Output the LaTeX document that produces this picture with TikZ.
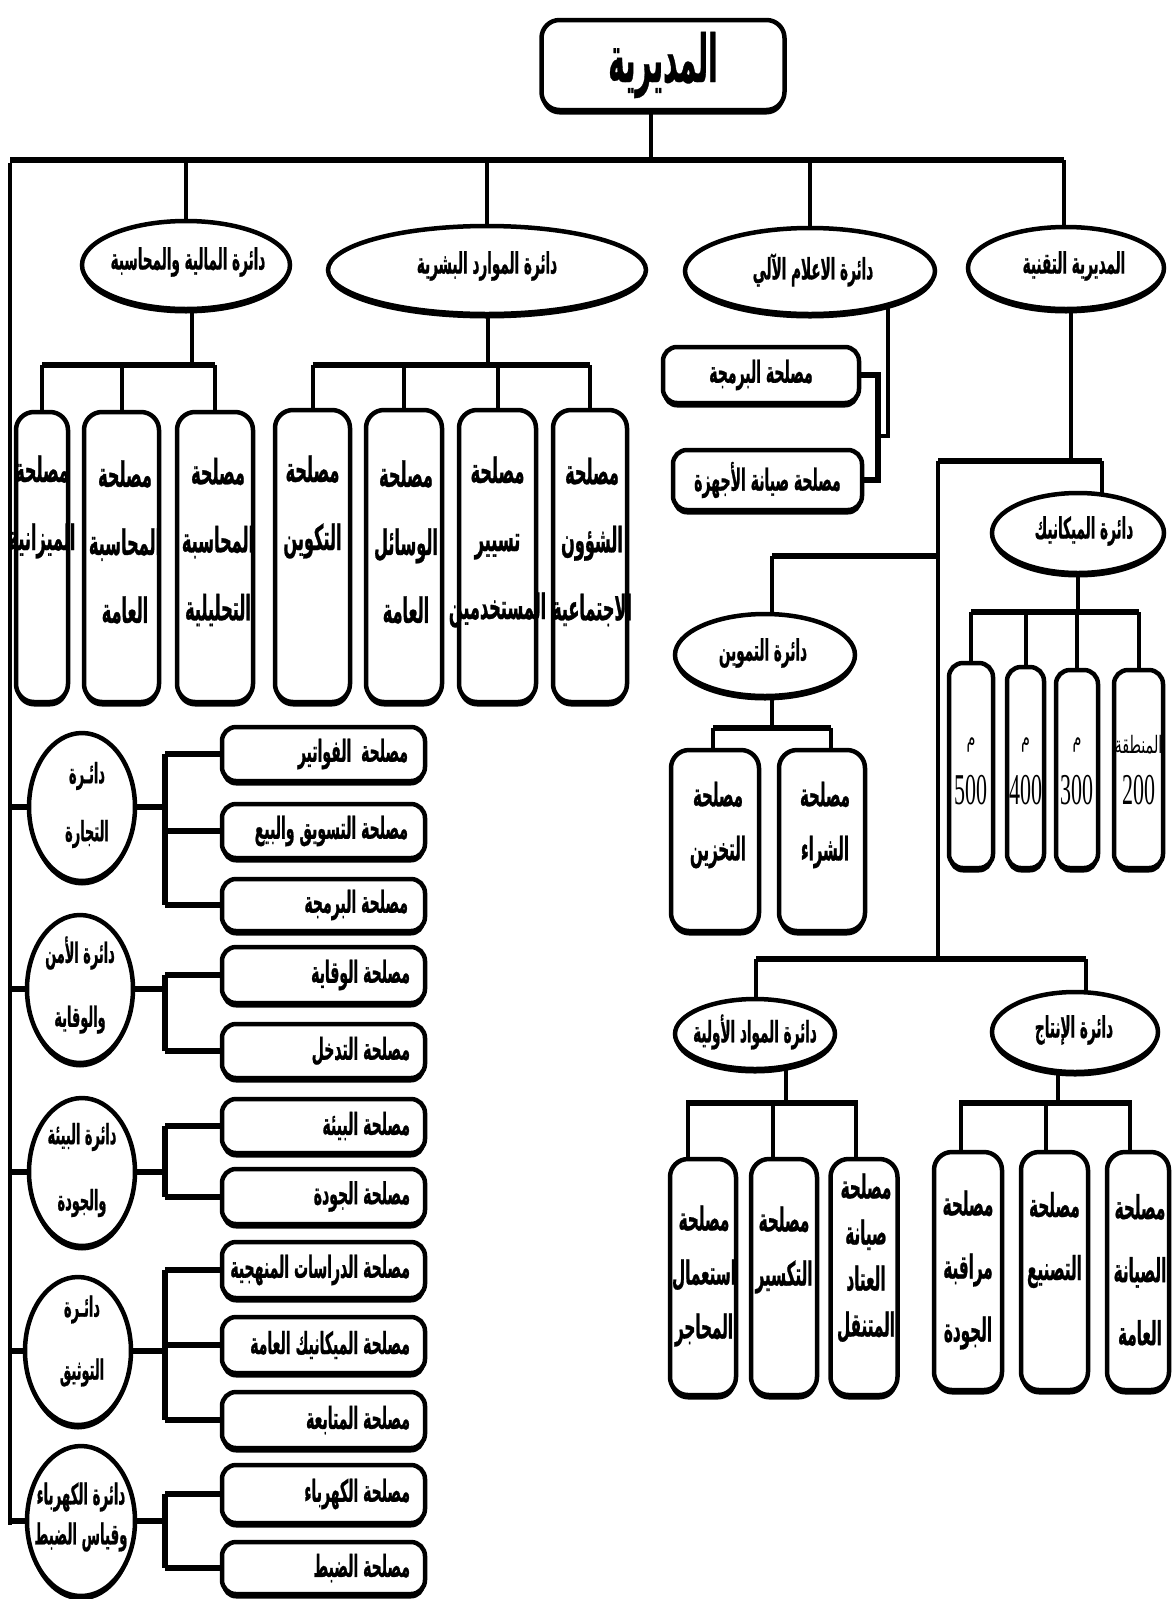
\documentclass[tikz,border=0pt]{standalone}
\usepackage{fontspec}
\usetikzlibrary{shapes.geometric,backgrounds,shadows}
\TeXXeTstate=1
\newfontfamily\arb[Script=Arabic,FakeStretch=0.46,FakeBold=0.7]{DejaVu Sans Bold}
\newfontfamily\arbt[Script=Arabic,FakeStretch=0.42,FakeBold=0.5]{DejaVu Sans Bold}
\newfontfamily\arr[Script=Arabic,FakeStretch=0.6]{DejaVu Sans}
\newfontfamily\numf[FakeStretch=0.5]{Liberation Serif}
\newcommand\rl[1]{\beginR #1\endR}
\tikzset{
  every node/.style={inner sep=0pt, outer sep=0pt},
  shad/.style={drop shadow={shadow xshift=0pt, shadow yshift=-4.5pt, opacity=1, fill=black}},
  box/.style={draw, line width=4.5pt, rounded corners=18pt, fill=white, shad},
  hbox/.style={draw, line width=4.5pt, rounded corners=14pt, fill=white, shad},
  ell/.style={ellipse, draw, line width=4.5pt, fill=white, shad},
  con/.style={line width=4pt},
  bar/.style={line width=6.5pt},
  brk/.style={line width=6pt},
  et/.style={align=center, font=\arb\fontsize{29.5}{34}\selectfont},
  lt/.style={anchor=east, font=\arb\fontsize{30.5}{34}\selectfont},
  tt/.style={align=center, font=\arb\fontsize{35}{68}\selectfont},
  st/.style={align=center, font=\arb\fontsize{32.5}{54}\selectfont},
  ct/.style={align=center, font=\arb\fontsize{28}{58}\selectfont},
}
\begin{document}
\begin{tikzpicture}[x=1pt,y=-1pt]
\useasboundingbox (0,0) rectangle (1173,1599);
% ---------- top
\node[box, minimum width=243pt, minimum height=90pt, font=\arbt\fontsize{66}{70}\selectfont] (dir) at (663,65) {\rl{المديرية}};
% ---------- level 1
\node[ell, minimum width=208pt, minimum height=88pt] (fin) at (186,265) {};
\node[et] (fint) at (188,262) {\rl{دائرة المالية والمحاسبة}};
\node[ell, minimum width=318pt, minimum height=88pt] (hr) at (487,270) {};
\node[et] (hrt) at (487,266) {\rl{دائرة الموارد البشرية}};
\node[ell, minimum width=250pt, minimum height=86pt] (it) at (810,271) {};
\node[et] (itt) at (813,270) {\rl{دائرة الاعلام الآلي}};
\node[ell, minimum width=196pt, minimum height=82pt] (tech) at (1066,268) {};
\node[et] (techt) at (1074,266) {\rl{المديرية التقنية}};
% ---------- finance boxes
\node[box, minimum width=52pt, minimum height=290pt] (mz) at (42,557) {};
\node[tt] (mzt) at (42,507) {\rl{مصلحة}\\\rl{الميزانية}};
\node[box, minimum width=75pt, minimum height=290pt] (ma) at (121.5,557) {};
\node[tt] (mat) at (125,542) {\rl{مصلحة}\\\rl{المحاسبة}\\\rl{العامة}};
\node[box, minimum width=76pt, minimum height=290pt] (mt) at (215,557) {};
\node[tt] (mtt) at (218,542) {\rl{مصلحة}\\\rl{المحاسبة}\\\rl{التحليلية}};
% ---------- HR boxes
\node[box, minimum width=75pt, minimum height=292pt] (tk) at (312.5,556) {};
\node[tt] (tkt) at (312.5,507) {\rl{مصلحة}\\\rl{التكوين}};
\node[box, minimum width=76pt, minimum height=292pt] (ws) at (404,556) {};
\node[tt] (wst) at (406,542) {\rl{مصلحة}\\\rl{الوسائل}\\\rl{العامة}};
\node[box, minimum width=77pt, minimum height=292pt] (ts) at (497.5,556) {};
\node[tt] (tst) at (497.5,542) {\rl{مصلحة}\\\rl{تسيير}\\\rl{المستخدمين}};
\node[box, minimum width=74pt, minimum height=292pt] (sh) at (590,556) {};
\node[tt] (sht) at (592,542) {\rl{مصلحة}\\\rl{الشؤون}\\\rl{الاجتماعية}};
% ---------- IT boxes
\node[hbox, minimum width=196pt, minimum height=56pt, font=\arb\fontsize{30.5}{34}\selectfont] (ip) at (761,375) {\rl{مصلحة البرمجة}};
\node[hbox, minimum width=189pt, minimum height=60pt, font=\arb\fontsize{30.5}{34}\selectfont] (iq) at (767.5,480) {\rl{مصلحة صيانة الأجهزة}};
% ---------- mechanics
\node[ell, minimum width=172pt, minimum height=80pt] (mec) at (1078,533) {};
\node[et] (mect) at (1084,531) {\rl{دائرة الميكانيك}};
\node[box, rounded corners=14pt, minimum width=44pt, minimum height=205pt] (z5) at (971,765.5) {};
\node[box, rounded corners=14pt, minimum width=37pt, minimum height=201pt] (z4) at (1025.5,767.5) {};
\node[box, rounded corners=14pt, minimum width=42pt, minimum height=198pt] (z3) at (1077,769) {};
\node[box, rounded corners=14pt, minimum width=49pt, minimum height=198pt] (z2) at (1138.5,769) {};
\node[font=\arr\fontsize{24}{26}\selectfont] (z5m) at (971,745) {\rl{م}};
\node[font=\numf\fontsize{44}{48}\selectfont] (z5n) at (971,790) {500};
\node[font=\arr\fontsize{24}{26}\selectfont] (z4m) at (1025.5,745) {\rl{م}};
\node[font=\numf\fontsize{44}{48}\selectfont] (z4n) at (1025.5,790) {400};
\node[font=\arr\fontsize{24}{26}\selectfont] (z3m) at (1077,745) {\rl{م}};
\node[font=\numf\fontsize{44}{48}\selectfont] (z3n) at (1077,790) {300};
\node[font=\arr\fontsize{24}{26}\selectfont] (z2m) at (1138.5,745) {\rl{المنطقة}};
\node[font=\numf\fontsize{44}{48}\selectfont] (z2n) at (1138.5,790) {200};
% ---------- supply
\node[ell, minimum width=180pt, minimum height=82pt] (tam) at (765,655) {};
\node[et] (tamt) at (763,653) {\rl{دائرة التموين}};
\node[box, minimum width=88pt, minimum height=181pt] (tkh) at (715,840.5) {};
\node[st] (tkht) at (718,825) {\rl{مصلحة}\\\rl{التخزين}};
\node[box, minimum width=86pt, minimum height=181pt] (shr) at (822,840.5) {};
\node[st] (shrt) at (825,825) {\rl{مصلحة}\\\rl{الشراء}};
% ---------- raw materials / production
\node[ell, minimum width=160pt, minimum height=70pt] (mw) at (755,1034) {};
\node[et] (mwt) at (755,1032) {\rl{دائرة المواد الأولية}};
\node[ell, minimum width=166pt, minimum height=80pt] (pr) at (1075,1032) {};
\node[et] (prt) at (1074,1030) {\rl{دائرة الإنتاج}};
\node[box, minimum width=66pt, minimum height=236pt] (mh) at (703,1277) {};
\node[st, font=\arb\fontsize{33}{54}\selectfont] (mht) at (704,1276) {\rl{مصلحة}\\\rl{استعمال}\\\rl{المحاجر}};
\node[box, minimum width=66pt, minimum height=236pt] (tks) at (784,1277) {};
\node[st, font=\arb\fontsize{33}{54}\selectfont] (tkst) at (784,1250) {\rl{مصلحة}\\\rl{التكسير}};
\node[box, minimum width=67pt, minimum height=236pt] (ata) at (864,1277) {};
\node[st, font=\arb\fontsize{33}{46}\selectfont] (atat) at (866,1258) {\rl{مصلحة}\\\rl{صيانة}\\\rl{العتاد}\\\rl{المتنقل}};
\node[box, minimum width=68pt, minimum height=238pt] (mq) at (968,1271) {};
\node[st, font=\arb\fontsize{33}{63}\selectfont] (mqt) at (968,1270) {\rl{مصلحة}\\\rl{مراقبة}\\\rl{الجودة}};
\node[box, minimum width=67pt, minimum height=238pt] (tsn) at (1054.5,1271) {};
\node[st, font=\arb\fontsize{33}{63}\selectfont] (tsnt) at (1054.5,1240) {\rl{مصلحة}\\\rl{التصنيع}};
\node[box, minimum width=62pt, minimum height=238pt] (sy) at (1138,1271) {};
\node[st, font=\arb\fontsize{33}{63}\selectfont] (syt) at (1140,1270) {\rl{مصلحة}\\\rl{الصيانة}\\\rl{العامة}};
% ---------- left column circles
\node[ell, minimum width=106pt, minimum height=148pt] (ctj) at (82,807) {};
\node[ct] (ctjt) at (87,805) {\rl{دائـرة}\\\rl{التجارة}};
\node[ell, minimum width=106pt, minimum height=148pt] (cam) at (80,989) {};
\node[ct, font=\arb\fontsize{28}{64}\selectfont] (camt) at (80,985) {\rl{دائرة الأمن}\\\rl{والوقاية}};
\node[ell, minimum width=106pt, minimum height=148pt] (cbi) at (82,1172) {};
\node[ct, font=\arb\fontsize{28}{66}\selectfont] (cbit) at (82,1170) {\rl{دائرة البيئة}\\\rl{والجودة}};
\node[ell, minimum width=106pt, minimum height=148pt] (ctw) at (78,1351) {};
\node[ct, font=\arb\fontsize{28}{63}\selectfont] (ctwt) at (82,1341) {\rl{دائـرة}\\\rl{التوثيق}};
\node[ell, minimum width=108pt, minimum height=150pt] (ckh) at (81,1521) {};
\node[ct, font=\arb\fontsize{29}{40}\selectfont] (ckht) at (81,1517) {\rl{دائرة الكهرباء}\\\rl{وقياس الضبط}};
% ---------- left column boxes
\foreach \n/\y/\h in {f1/754/54,f2/831/54,f3/905/52,a1/975/56,a2/1051/54,b1/1126/54,b2/1196.5/55,t1/1270/56,t2/1345/56,t3/1420/56,k1/1494/58,k2/1568/52}
  \node[hbox, minimum width=203pt, minimum height=\h pt] (\n) at (323.5,\y) {};
\node[lt] (f1t) at ([xshift=-17pt]f1.east) {\rl{مصلحة\ \ الفواتير}};
\node[lt] (f2t) at ([xshift=-17pt]f2.east) {\rl{مصلحة التسويق والبيع}};
\node[lt] (f3t) at ([xshift=-17pt]f3.east) {\rl{مصلحة البرمجة}};
\node[lt] (a1t) at ([xshift=-15pt]a1.east) {\rl{مصلحة الوقاية}};
\node[lt] (a2t) at ([xshift=-15pt]a2.east) {\rl{مصلحة التدخل}};
\node[lt] (b1t) at ([xshift=-15pt]b1.east) {\rl{مصلحة البيئة}};
\node[lt] (b2t) at ([xshift=-15pt]b2.east) {\rl{مصلحة الجودة}};
\node[lt] (t1t) at ([xshift=-15pt]t1.east) {\rl{مصلحة الدراسات المنهجية}};
\node[lt] (t2t) at ([xshift=-15pt]t2.east) {\rl{مصلحة الميكانيك العامة}};
\node[lt] (t3t) at ([xshift=-15pt]t3.east) {\rl{مصلحة المتابعة}};
\node[lt] (k1t) at ([xshift=-15pt]k1.east) {\rl{مصلحة الكهرباء}};
\node[lt] (k2t) at ([xshift=-15pt]k2.east) {\rl{مصلحة الضبط}};
% ---------- connectors
\begin{pgfonlayer}{background}
\fill[white] (0,0) rectangle (1173,1599);
\coordinate (dj) at (651,160);
\coordinate (bl) at (10,160);
\coordinate (br) at (1064,160);
\coordinate (lvb) at (10,1525);
\draw[con] (dir.center -| dj) -- (dj);
\draw[bar] (bl) -- (br);
\draw[con] ([yshift=-3pt]bl) -- (lvb);
\draw[con] (fin.north |- bl) -- (fin.north);
\draw[con] (hr.north |- bl) -- (hr.north);
\draw[con] (it.north |- bl) -- (it.north);
\draw[con] (br) -- (tech.center -| br);
% finance
\coordinate (fb) at (192,365);
\draw[con] (fin.center -| fb) -- (fb);
\draw[bar] (mz.north |- fb) -- (mt.north |- fb);
\foreach \n in {mz,ma,mt} \draw[con] (\n.north |- fb) -- (\n.north);
% HR
\coordinate (hb) at (488,365);
\draw[con] (hr.center -| hb) -- (hb);
\draw[bar] (tk.north |- hb) -- (sh.north |- hb);
\foreach \n in {tk,ws,ts,sh} \draw[con] (\n.north |- hb) -- (\n.north);
% IT
\coordinate (itx) at (888,436);
\coordinate (itb) at (878,436);
\draw[con] (it.center -| itx) -- (itx) -- (itb);
\draw[brk] (ip.east) -- (ip.east -| itb) -- (iq.east -| itb) -- (iq.east);
% technical
\coordinate (tj) at (1071,461);
\coordinate (tl) at (938,461);
\coordinate (tr) at (1102,461);
\coordinate (tm) at (938,556);
\coordinate (tt) at (772,556);
\coordinate (tb) at (938,959);
\draw[con] (tech.center -| tj) -- (tj);
\draw[brk] (tl) -- (tr);
\draw[con] (tr) -- (mec.center -| tr);
\draw[con] (tl) -- (tb);
\draw[brk] (tm) -- (tt);
\draw[con] (tt) -- (tam.center -| tt);
% mechanics children
\coordinate (mb) at (1078,612);
\draw[con] (mec.center) -- (mb);
\draw[bar] (z5.north |- mb) -- (z2.north |- mb);
\foreach \n in {z5,z4,z3,z2} \draw[con] (\n.north |- mb) -- (\n.north);
% supply children
\coordinate (sb) at (772,728);
\coordinate (sbl) at (713,728);
\coordinate (sbr) at (831,728);
\draw[con] (tam.center -| sb) -- (sb);
\draw[bar] (sbl) -- (sbr);
\draw[con] (sbl) -- (tkh.north -| sbl);
\draw[con] (sbr) -- (shr.north -| sbr);
% bottom bar
\coordinate (bbl) at (756,959);
\coordinate (bbr) at (1086,959);
\draw[bar] (bbl) -- (bbr);
\draw[con] (bbl) -- (mw.center -| bbl);
\draw[con] (bbr) -- (pr.center -| bbr);
% raw materials children
\coordinate (wb) at (786,1103);
\coordinate (w1) at (688,1103);
\coordinate (w2) at (773,1103);
\coordinate (w3) at (856,1103);
\draw[con] (mw.center -| wb) -- (wb);
\draw[bar] ([xshift=-2pt]w1) -- ([xshift=2pt]w3);
\draw[con] (w1) -- (mh.north -| w1);
\draw[con] (w2) -- (tks.north -| w2);
\draw[con] (w3) -- (ata.north -| w3);
% production children
\coordinate (pb) at (1058,1103);
\coordinate (p1) at (961,1103);
\coordinate (p2) at (1046,1103);
\coordinate (p3) at (1130,1103);
\draw[con] (pr.center -| pb) -- (pb);
\draw[bar] ([xshift=-2pt]p1) -- ([xshift=2pt]p3);
\draw[con] (p1) -- (mq.north -| p1);
\draw[con] (p2) -- (tsn.north -| p2);
\draw[con] (p3) -- (sy.north -| p3);
% left column
\coordinate (bx) at (165,0);
\foreach \c in {ctj,cam,cbi,ctw,ckh} {
  \draw[brk] (\c.center -| lvb) -- (\c.center);
  \draw[brk] (\c.center) -- (\c.center -| bx);
}
\draw[brk] (f1.west -| bx) -- (f3.west -| bx);
\draw[brk] (a1.west -| bx) -- (a2.west -| bx);
\draw[brk] (b1.west -| bx) -- (b2.west -| bx);
\draw[brk] (t1.west -| bx) -- (t3.west -| bx);
\draw[brk] (k1.west -| bx) -- (k2.west -| bx);
\foreach \n in {f1,f2,f3,a1,a2,b1,b2,t1,t2,t3,k1,k2}
  \draw[brk] (\n.west -| bx) -- (\n.west);
\end{pgfonlayer}
\end{tikzpicture}
\end{document}
